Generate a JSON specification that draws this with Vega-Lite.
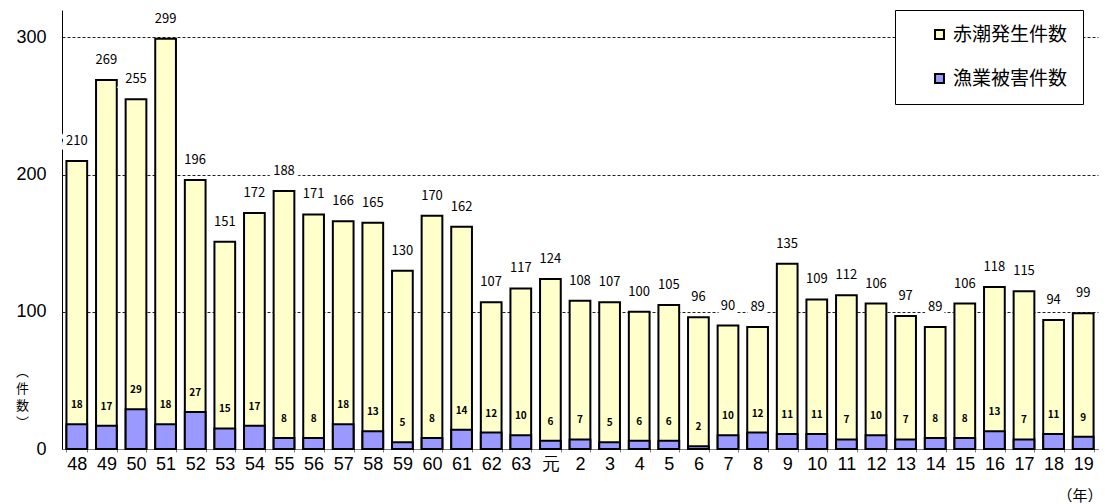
{
  "$schema": "https://vega.github.io/schema/vega-lite/v6.json",
  "width": 1036,
  "height": 439,
  "autosize": "none",
  "padding": {"left": 62, "top": 10, "right": 7, "bottom": 55},
  "background": "white",
  "config": {
    "view": {"stroke": null},
    "font": "Noto Sans CJK JP"
  },
  "data": {
    "values": [
      {"year": "48", "red": 210, "dmg": 18},
      {"year": "49", "red": 269, "dmg": 17},
      {"year": "50", "red": 255, "dmg": 29},
      {"year": "51", "red": 299, "dmg": 18},
      {"year": "52", "red": 196, "dmg": 27},
      {"year": "53", "red": 151, "dmg": 15},
      {"year": "54", "red": 172, "dmg": 17},
      {"year": "55", "red": 188, "dmg": 8},
      {"year": "56", "red": 171, "dmg": 8},
      {"year": "57", "red": 166, "dmg": 18},
      {"year": "58", "red": 165, "dmg": 13},
      {"year": "59", "red": 130, "dmg": 5},
      {"year": "60", "red": 170, "dmg": 8},
      {"year": "61", "red": 162, "dmg": 14},
      {"year": "62", "red": 107, "dmg": 12},
      {"year": "63", "red": 117, "dmg": 10},
      {"year": "元", "red": 124, "dmg": 6},
      {"year": "2", "red": 108, "dmg": 7},
      {"year": "3", "red": 107, "dmg": 5},
      {"year": "4", "red": 100, "dmg": 6},
      {"year": "5", "red": 105, "dmg": 6},
      {"year": "6", "red": 96, "dmg": 2},
      {"year": "7", "red": 90, "dmg": 10},
      {"year": "8", "red": 89, "dmg": 12},
      {"year": "9", "red": 135, "dmg": 11},
      {"year": "10", "red": 109, "dmg": 11},
      {"year": "11", "red": 112, "dmg": 7},
      {"year": "12", "red": 106, "dmg": 10},
      {"year": "13", "red": 97, "dmg": 7},
      {"year": "14", "red": 89, "dmg": 8},
      {"year": "15", "red": 106, "dmg": 8},
      {"year": "16", "red": 118, "dmg": 13},
      {"year": "17", "red": 115, "dmg": 7},
      {"year": "18", "red": 94, "dmg": 11},
      {"year": "19", "red": 99, "dmg": 9}
    ]
  },
  "encoding": {
    "x": {
      "field": "year",
      "type": "nominal",
      "sort": null,
      "scale": {"paddingInner": 0.3, "paddingOuter": 0.15},
      "axis": {
        "title": "（年）",
        "titleFontSize": 15,
        "titleFontWeight": "normal",
        "titleAnchor": "end",
        "titleAlign": "right",
        "titleBaseline": "middle",
        "titleX": 1040,
        "titleY": 46,
        "labelAngle": 0,
        "labelFont": "Liberation Sans",
        "labelFontSize": 18,
        "labelPadding": 3,
        "labelColor": "#000",
        "domainColor": "#808080",
        "tickColor": "#808080",
        "tickSize": 3,
        "tickBand": "extent",
        "grid": false
      }
    }
  },
  "layer": [
    {
      "mark": {"type": "bar", "stroke": "black", "strokeWidth": 2},
      "encoding": {
        "y": {
          "field": "red",
          "type": "quantitative",
          "scale": {"domain": [0, 320], "nice": false},
          "axis": {
            "values": [0, 100, 200, 300],
            "title": ["︵", "件", "数", "︶"],
            "titleAngle": 0,
            "titleAlign": "center",
            "titleBaseline": "top",
            "titleX": -40,
            "titleY": 355,
            "titleFontSize": 13,
            "titleFontWeight": "normal",
            "titleLineHeight": 17,
            "labelFont": "Liberation Sans",
            "labelFontSize": 18,
            "labelColor": "#000",
            "labelPadding": 16,
            "tickSize": 0,
            "domainColor": "black",
            "grid": true,
            "gridColor": "#222",
            "gridDash": [3, 2],
            "gridWidth": 1
          }
        },
        "color": {
          "datum": "赤潮発生件数",
          "type": "nominal",
          "scale": {"domain": ["赤潮発生件数", "漁業被害件数"], "range": ["#FFFFCC", "#9999FF"]},
          "legend": {
            "title": null,
            "orient": "none",
            "legendX": 833,
            "legendY": 0,
            "direction": "vertical",
            "symbolType": "square",
            "symbolSize": 80,
            "symbolStrokeColor": "black",
            "symbolStrokeWidth": 2,
            "symbolOffset": 20,
            "labelFontSize": 19,
            "labelColor": "#000",
            "labelOffset": 4,
            "rowPadding": 24,
            "padding": 15,
            "strokeColor": "black",
            "fillColor": "white"
          }
        }
      }
    },
    {
      "mark": {"type": "bar", "stroke": "black", "strokeWidth": 2},
      "encoding": {
        "y": {"field": "dmg", "type": "quantitative"},
        "color": {"datum": "漁業被害件数", "type": "nominal"}
      }
    },
    {
      "mark": {"type": "text", "dy": -20, "baseline": "middle", "fontSize": 13, "stroke": "white", "strokeWidth": 9, "fill": "white"},
      "encoding": {
        "y": {"field": "red", "type": "quantitative"},
        "text": {"field": "red", "type": "quantitative"}
      }
    },
    {
      "mark": {"type": "text", "dy": -20, "baseline": "middle", "fontSize": 13, "fill": "black"},
      "encoding": {
        "y": {"field": "red", "type": "quantitative"},
        "text": {"field": "red", "type": "quantitative"}
      }
    },
    {
      "mark": {"type": "text", "dy": -19, "baseline": "middle", "fontSize": 10, "fontWeight": "bold", "fill": "black"},
      "encoding": {
        "y": {"field": "dmg", "type": "quantitative"},
        "text": {"field": "dmg", "type": "quantitative"}
      }
    }
  ]
}
